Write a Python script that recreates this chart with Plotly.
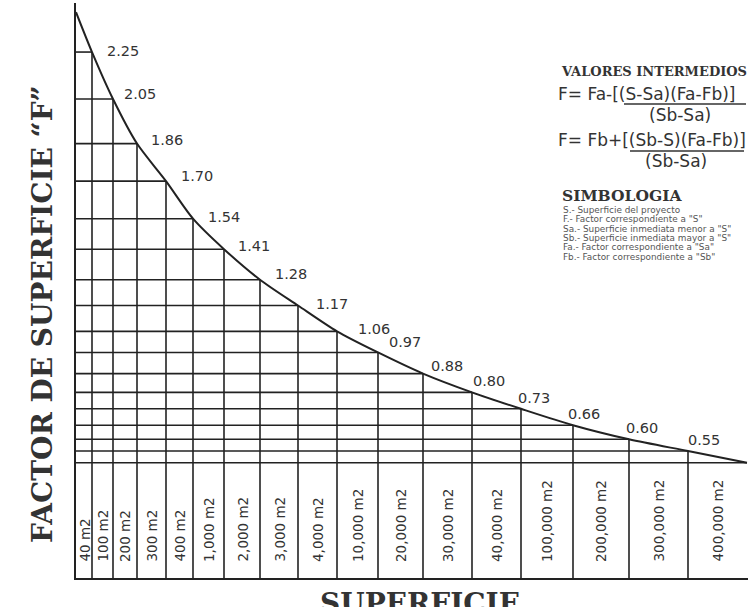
import numpy as np
import plotly.graph_objects as go

# ---------------- data ----------------
areas = ["40 m2", "100 m2", "200 m2", "300 m2", "400 m2", "1,000 m2", "2,000 m2",
         "3,000 m2", "4,000 m2", "10,000 m2", "20,000 m2", "30,000 m2", "40,000 m2",
         "100,000 m2", "200,000 m2", "300,000 m2", "400,000 m2"]
factors = [2.25, 2.05, 1.86, 1.70, 1.54, 1.41, 1.28, 1.17, 1.06, 0.97,
           0.88, 0.80, 0.73, 0.66, 0.60, 0.55]
curve_start = 2.42   # estimated (unlabelled start of curve)
curve_end = 0.50     # estimated (unlabelled end of curve)

simbologia = ['S.- Superficie del proyecto',
              'F.- Factor correspondiente a "S"',
              'Sa.- Superficie inmediata menor a "S"',
              'Sb.- Superficie inmediata mayor a "S"',
              'Fa.- Factor correspondiente a "Sa"',
              'Fb.- Factor correspondiente a "Sb"']

# ---------------- layout / style ----------------
W, H = 752, 607
ML, MR, MT, MB = 76, 4, 3, 29
col_widths = [16, 21, 24, 29, 27, 31, 36, 38, 39, 41, 45, 49, 49, 52, 56, 59, 59]
label_dx = [14, 10, 13, 14, 14, 13, 14, 17, 20, 10, 7, 0, -4, -6, -4, -1]
label_dy = [1, 5, 4, 5, 2, 3, 6, 2, 2, 10, 8, 11, 11, 11, 11, 11]
YMIN, YMAX = 0.009, 2.459
XMAX = 672
INK = "#222222"
GRID_W = 1.6
SANS = "DejaVu Sans"
SERIF = "DejaVu Serif"

pw, ph = W - ML - MR, H - MT - MB


def px(xp):
    return (xp - ML) / pw


def py(yp):
    return (H - MB - yp) / ph


edges = np.concatenate([[0], np.cumsum(col_widths)])
curve_y = [curve_start] + factors + [curve_end]

# grid segments drawn under the curve
gx, gy = [], []
for i in range(1, len(edges)):
    gx += [0, edges[i], None]
    gy += [curve_y[i], curve_y[i], None]
for i in range(1, len(edges) - 1):
    gx += [edges[i], edges[i], None]
    gy += [YMIN, curve_y[i], None]

fig = go.Figure()
fig.add_trace(go.Scatter(x=gx, y=gy, mode="lines",
                         line=dict(color=INK, width=GRID_W),
                         hoverinfo="skip", showlegend=False))
fig.add_trace(go.Scatter(x=edges, y=curve_y, mode="lines",
                         line=dict(color=INK, width=2, shape="spline", smoothing=0.8),
                         showlegend=False))

ann = []
for i, v in enumerate(factors):
    ann.append(dict(x=edges[i + 1], y=v, xref="x", yref="y", text=f"{v:.2f}",
                    xanchor="left", yanchor="middle", xshift=label_dx[i],
                    yshift=label_dy[i], showarrow=False, borderpad=0,
                    font=dict(family=SANS, size=14.5, color="#333")))

for i, a in enumerate(areas):
    ann.append(dict(x=(edges[i] + edges[i + 1]) / 2, y=py(563), xref="x", yref="paper",
                    text=a, textangle=-90, xanchor="center", yanchor="bottom",
                    showarrow=False, borderpad=0,
                    font=dict(family=SANS, size=13.5, color="#333")))

# axis titles
ann.append(dict(x=px(42), y=py(314), xref="paper", yref="paper",
                text="<b>FACTOR DE SUPERFICIE “F”</b>", textangle=-90,
                xanchor="center", yanchor="middle", showarrow=False,
                font=dict(family=SERIF, size=28, color="#333")))
ann.append(dict(x=px(420), y=py(585), xref="paper", yref="paper",
                text="<b>SUPERFICIE</b>", xanchor="center", yanchor="top",
                showarrow=False, font=dict(family=SERIF, size=28, color="#333")))

# right-side text block
FORM = dict(family=SANS, size=17, color="#333")
ann.append(dict(x=px(559), y=py(71), xref="paper", yref="paper",
                text="<b>VALORES INTERMEDIOS</b>", xanchor="left", yanchor="middle",
                showarrow=False, font=dict(family=SERIF, size=13, color="#333")))
ann.append(dict(x=px(556), y=py(94), xref="paper", yref="paper",
                text="F= Fa-[(S-Sa)(Fa-Fb)]", xanchor="left", yanchor="middle",
                showarrow=False, font=FORM))
ann.append(dict(x=px(680), y=py(115), xref="paper", yref="paper",
                text="(Sb-Sa)", xanchor="center", yanchor="middle",
                showarrow=False, font=FORM))
ann.append(dict(x=px(556), y=py(140), xref="paper", yref="paper",
                text="F= Fb+[(Sb-S)(Fa-Fb)]", xanchor="left", yanchor="middle",
                showarrow=False, font=FORM))
ann.append(dict(x=px(676), y=py(161), xref="paper", yref="paper",
                text="(Sb-Sa)", xanchor="center", yanchor="middle",
                showarrow=False, font=FORM))
ann.append(dict(x=px(560), y=py(195), xref="paper", yref="paper",
                text="<b>SIMBOLOGIA</b>", xanchor="left", yanchor="middle",
                showarrow=False, font=dict(family=SERIF, size=15.5, color="#333")))
for k, s in enumerate(simbologia):
    ann.append(dict(x=px(562), y=py(210 + k * 9.3), xref="paper", yref="paper",
                    text=s, xanchor="left", yanchor="middle", showarrow=False,
                    borderpad=0, font=dict(family=SANS, size=8.9, color="#555")))

# fraction bars of the two formulas
shapes = [
    dict(type="line", xref="paper", yref="paper", x0=px(624), x1=px(746),
         y0=py(104), y1=py(104), line=dict(color="#333", width=1.6)),
    dict(type="line", xref="paper", yref="paper", x0=px(630), x1=px(744),
         y0=py(151), y1=py(151), line=dict(color="#333", width=1.6)),
]

axis_common = dict(showline=True, linecolor=INK, linewidth=GRID_W, showgrid=False,
                   zeroline=False, showticklabels=False, ticks="", fixedrange=True)
fig.update_layout(
    width=W, height=H,
    margin=dict(l=ML, r=MR, t=MT, b=MB),
    paper_bgcolor="white", plot_bgcolor="white",
    xaxis=dict(range=[0, XMAX], **axis_common),
    yaxis=dict(range=[YMIN, YMAX], **axis_common),
    annotations=ann,
    shapes=shapes,
    showlegend=False,
)
fig.write_html("out.html", config={"displayModeBar": False},
               post_script="document.body.style.margin='0px';"
                           "document.body.style.overflow='hidden';")
